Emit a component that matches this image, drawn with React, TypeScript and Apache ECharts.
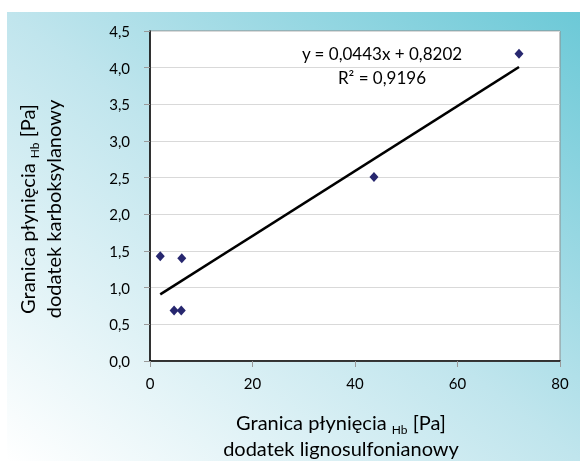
import React, { useEffect, useRef } from "react";
import * as echarts from "echarts";

const xTicks = [0, 20, 40, 60, 80];
const yTicks = [0, 0.5, 1, 1.5, 2, 2.5, 3, 3.5, 4, 4.5];
const pointsX = [2.0, 6.2, 4.7, 6.1, 43.7, 72.0];
const pointsY = [1.43, 1.4, 0.69, 0.69, 2.51, 4.19];
const slope = 0.0443;
const intercept = 0.8202;
const r2 = 0.9196;
const xTitle = ["Granica płynięcia ", "Hb", " [Pa]", "dodatek lignosulfonianowy"];
const yTitle = ["Granica płynięcia ", "Hb", " [Pa]", "dodatek karboksylanowy"];

const fmt = (v: number) => v.toFixed(1).replace(".", ",");
const fmt4 = (v: number) => v.toFixed(4).replace(".", ",");

export default function App() {
  const ref = useRef<HTMLDivElement>(null);
  useEffect(() => {
    if (!ref.current) return;
    const chart = echarts.init(ref.current, undefined, { renderer: "svg" });
    const font = "Lato";
    const xMin = Math.min(...pointsX);
    const xMax = Math.max(...pointsX);
    const trend = [
      [xMin, slope * xMin + intercept],
      [xMax, slope * xMax + intercept],
    ];
    const rich = {
      n: { fontSize: 20, fontFamily: font, fill: "#000", color: "#000" },
      sub: { fontSize: 12, fontFamily: font, fill: "#000", color: "#000", verticalAlign: "bottom", padding: [7, 0, 0, 0] },
    };
    const titleText = (t: string[]) => "{n|" + t[0] + "}{sub|" + t[1] + "}{n|" + t[2] + "}\n{n|" + t[3] + "}";
    chart.setOption({
      animation: false,
      graphic: [
        {
          type: "rect",
          z: -10,
          silent: true,
          shape: { x: 7, y: 12, width: 573, height: 449 },
          style: {
            fill: new echarts.graphic.LinearGradient(0, 1, 1, 0, [
              { offset: 0, color: "#ffffff" },
              { offset: 0.5, color: "#c0e5ed" },
              { offset: 1, color: "#6cc9d7" },
            ]),
          },
        },
        {
          type: "text",
          x: 382,
          y: 65,
          z: 10,
          style: {
            text: "y = " + fmt4(slope) + "x + " + fmt4(intercept) + "\nR² = " + fmt4(r2),
            font: "17px Lato",
            fill: "#000",
            align: "center",
            verticalAlign: "middle",
            lineHeight: 24,
          },
        },
        {
          type: "text",
          x: 341,
          y: 435,
          z: 10,
          style: {
            text: titleText(xTitle),
            rich,
            align: "center",
            verticalAlign: "middle",
            lineHeight: 26,
            fill: "#000",
          },
        },
        {
          type: "text",
          x: 40,
          y: 209,
          rotation: Math.PI / 2,
          z: 10,
          style: {
            text: titleText(yTitle),
            rich,
            align: "center",
            verticalAlign: "middle",
            lineHeight: 26,
            fill: "#000",
          },
        },
      ],
      grid: {
        left: 150,
        top: 31,
        right: 20,
        bottom: 100,
        show: true,
        backgroundColor: "#ffffff",
        borderColor: "#8c8c8c",
        borderWidth: 1,
      },
      xAxis: {
        type: "value",
        min: xTicks[0],
        max: xTicks[xTicks.length - 1],
        interval: 20,
        axisLine: { show: true, onZero: false, lineStyle: { color: "#000", width: 1.5 } },
        axisTick: { show: true, length: 6, lineStyle: { color: "#999" } },
        splitLine: { show: false },
        axisLabel: { fontFamily: font, fontSize: 15, color: "#000", margin: 14 },
      },
      yAxis: {
        type: "value",
        min: yTicks[0],
        max: yTicks[yTicks.length - 1],
        interval: 0.5,
        axisLine: { show: true, onZero: false, lineStyle: { color: "#000", width: 1.5 } },
        axisTick: { show: true, length: 6, lineStyle: { color: "#999" } },
        splitLine: { show: true, lineStyle: { color: "#d9d9d9", width: 1 } },
        axisLabel: { fontFamily: font, fontSize: 15, color: "#000", margin: 20, formatter: (v: number) => fmt(v) },
      },
      series: [
        {
          type: "line",
          data: trend,
          symbol: "none",
          lineStyle: { color: "#000", width: 2.5 },
          z: 2,
        },
        {
          type: "scatter",
          data: pointsX.map((x, i) => [x, pointsY[i]]),
          symbol: "diamond",
          symbolSize: [9, 10],
          itemStyle: { color: "#27276f", opacity: 1 },
          z: 3,
        },
      ],
    });
    return () => chart.dispose();
  }, []);
  return <div ref={ref} style={{ position: "fixed", left: 0, top: 0, width: 580, height: 461 }} />;
}
